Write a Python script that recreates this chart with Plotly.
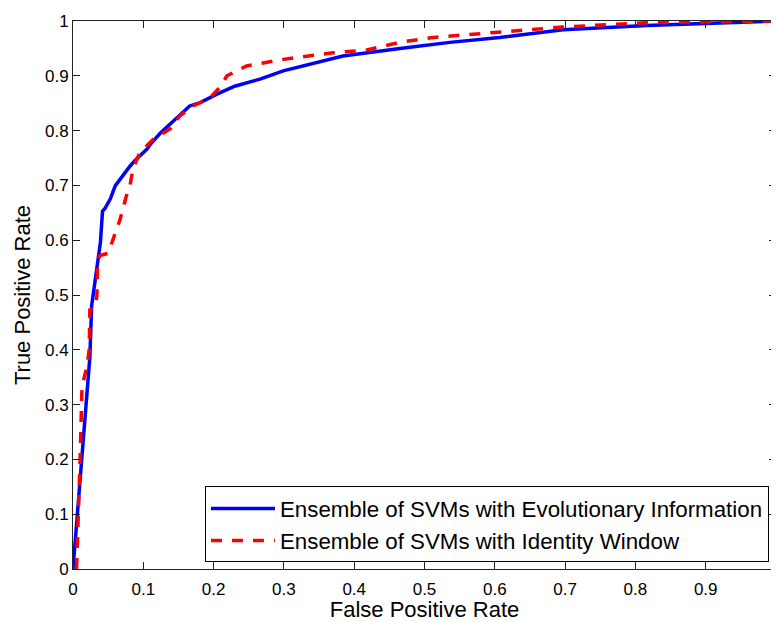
import plotly.graph_objects as go

# Ensemble of SVMs with Evolutionary Information (blue, solid)
evo_fpr = [0.0, 0.012, 0.024, 0.0265, 0.034, 0.039, 0.042, 0.0455, 0.053, 0.06, 0.081, 0.09,
           0.105, 0.11, 0.124, 0.15, 0.166, 0.181, 0.204, 0.23, 0.266, 0.299, 0.384, 0.465,
           0.536, 0.607, 0.697, 0.816, 1.0]
evo_tpr = [0.0, 0.195, 0.387, 0.48, 0.553, 0.596, 0.653, 0.658, 0.675, 0.699, 0.735, 0.748,
           0.766, 0.775, 0.795, 0.827, 0.845, 0.851, 0.866, 0.881, 0.894, 0.909, 0.936, 0.950,
           0.961, 0.970, 0.984, 0.992, 1.0]

# Ensemble of SVMs with Identity Window (red, dashed)
idw_fpr = [0.005, 0.0067, 0.01, 0.0128, 0.02, 0.023, 0.024, 0.031, 0.034, 0.035, 0.038, 0.05,
           0.057, 0.067, 0.076, 0.081, 0.085, 0.095, 0.114, 0.138, 0.152, 0.171, 0.195, 0.209,
           0.219, 0.247, 0.299, 0.37, 0.418, 0.465, 0.512, 0.607, 0.697, 0.816, 1.0]
idw_tpr = [0.0, 0.053, 0.194, 0.333, 0.37, 0.40, 0.473, 0.477, 0.498, 0.556, 0.572, 0.576,
           0.601, 0.638, 0.681, 0.699, 0.729, 0.76, 0.784, 0.803, 0.827, 0.845, 0.860, 0.879,
           0.900, 0.918, 0.93, 0.942, 0.947, 0.961, 0.970, 0.979, 0.989, 0.997, 1.0]

tick_vals = [i / 10 for i in range(11)]
tick_text = ["0", "0.1", "0.2", "0.3", "0.4", "0.5", "0.6", "0.7", "0.8", "0.9", "1"]

FONT = "Liberation Sans, Arial, Helvetica, sans-serif"

fig = go.Figure()
fig.add_trace(go.Scatter(
    x=evo_fpr, y=evo_tpr, mode="lines",
    name="Ensemble of SVMs with Evolutionary Information",
    line=dict(color="#0000ff", width=3.5),
))
fig.add_trace(go.Scatter(
    x=idw_fpr, y=idw_tpr, mode="lines",
    name="Ensemble of SVMs with Identity Window",
    line=dict(color="#ff0000", width=3.5, dash="11px,10px"),
))

axis_common = dict(
    range=[0, 1], tickvals=tick_vals, ticktext=tick_text,
    ticks="inside", ticklen=7, tickwidth=1, tickcolor="#222222",
    showline=True, linecolor="#222222", linewidth=1, mirror="ticks",
    showgrid=False, zeroline=False,
    tickfont=dict(family=FONT, size=17, color="#000000"),
    ticklabeloverflow="allow",
    automargin=False,
)

# The page body has an 8px margin, so the figure is 8px smaller than the window
fig.update_layout(
    width=771, height=614,
    margin=dict(l=65, r=3, t=13, b=53),
    paper_bgcolor="white", plot_bgcolor="white",
    font=dict(family=FONT, color="#000000"),
    xaxis=dict(**axis_common, ticklabelstandoff=5,
               title=dict(text="False Positive Rate", font=dict(family=FONT, size=22), standoff=1)),
    yaxis=dict(**axis_common,
               title=dict(text="True Positive Rate", font=dict(family=FONT, size=22), standoff=8)),
    legend=dict(
        x=0.99, y=0.012, xanchor="right", yanchor="bottom",
        bgcolor="white", bordercolor="#000000", borderwidth=1,
        font=dict(family=FONT, size=22.3, color="#000000"),
        itemwidth=64, tracegroupgap=0,
    ),
    showlegend=True,
)

fig.write_html("out.html")
